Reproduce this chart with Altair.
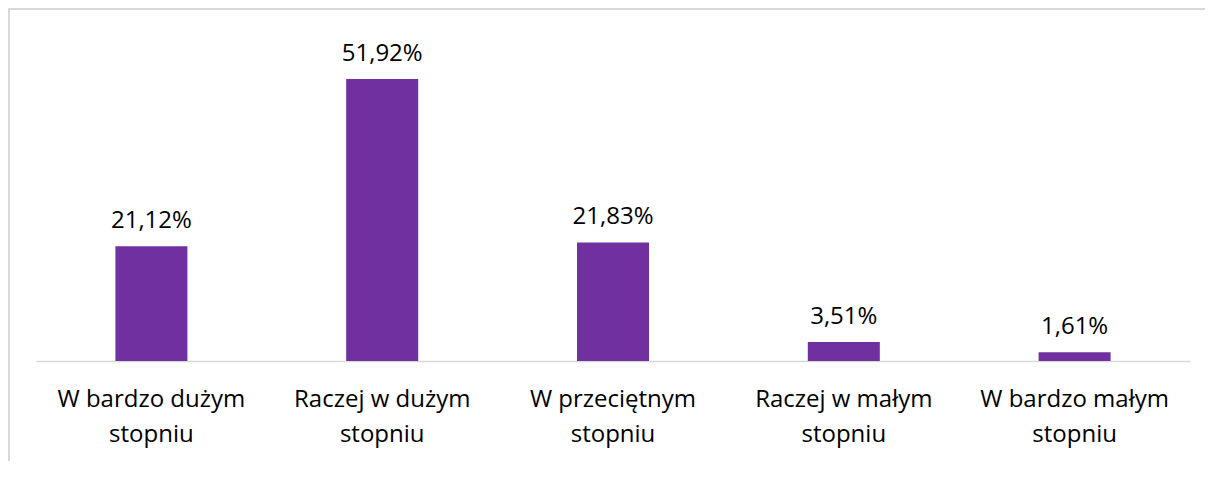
import altair as alt
import pandas as pd

categories = ["W bardzo dużym|stopniu", "Raczej w dużym|stopniu", "W przeciętnym|stopniu",
              "Raczej w małym|stopniu", "W bardzo małym|stopniu"]
values = [21.12, 51.92, 21.83, 3.51, 1.61]
labels = ["21,12%", "51,92%", "21,83%", "3,51%", "1,61%"]

df = pd.DataFrame({"cat": categories, "val": values, "lab": labels})

W, H = 1154, 326
PL, PT, PR, PB = 28, 27, 15, 100
FONT = "Open Sans"
FRAME = "#d9d9d9"

x_enc = alt.X("cat:N", sort=categories,
              scale=alt.Scale(paddingInner=0.688, paddingOuter=0.344),
              axis=alt.Axis(title=None, labelAngle=0, ticks=False, domainColor=FRAME,
                            domainWidth=1.5, labelFont=FONT, labelFontSize=24,
                            labelColor="#000000", labelLineHeight=35, labelPadding=26,
                            labelLimit=400,
                            labelExpr="split(datum.label, '|')", labelBaseline="top"))
y_enc = alt.Y("val:Q", scale=alt.Scale(domain=[0, 60], nice=False), axis=None)

bars = alt.Chart(df).mark_bar(color="#7030a0").encode(x=x_enc, y=y_enc)
text = alt.Chart(df).mark_text(font=FONT, fontSize=24, color="#000000", dy=-18,
                               baseline="alphabetic").encode(x=x_enc, y=y_enc, text="lab:N")

frame_df = pd.DataFrame({"k": [0]})
top_line = alt.Chart(frame_df).mark_rule(color=FRAME, strokeWidth=2).encode(
    x=alt.value(-PL), x2=alt.value(W + PR), y=alt.value(-PT + 1))
left_line = alt.Chart(frame_df).mark_rule(color=FRAME, strokeWidth=2).encode(
    x=alt.value(-PL + 1), y=alt.value(-PT), y2=alt.value(H + PB))

chart = alt.layer(bars, text, top_line, left_line).properties(
    width=W, height=H,
    padding={"left": PL, "top": PT, "right": PR, "bottom": PB},
    autosize=alt.AutoSizeParams(type="none"),
).configure_view(stroke=None)

chart.save("out.html", embed_options={"renderer": "svg", "actions": False})
